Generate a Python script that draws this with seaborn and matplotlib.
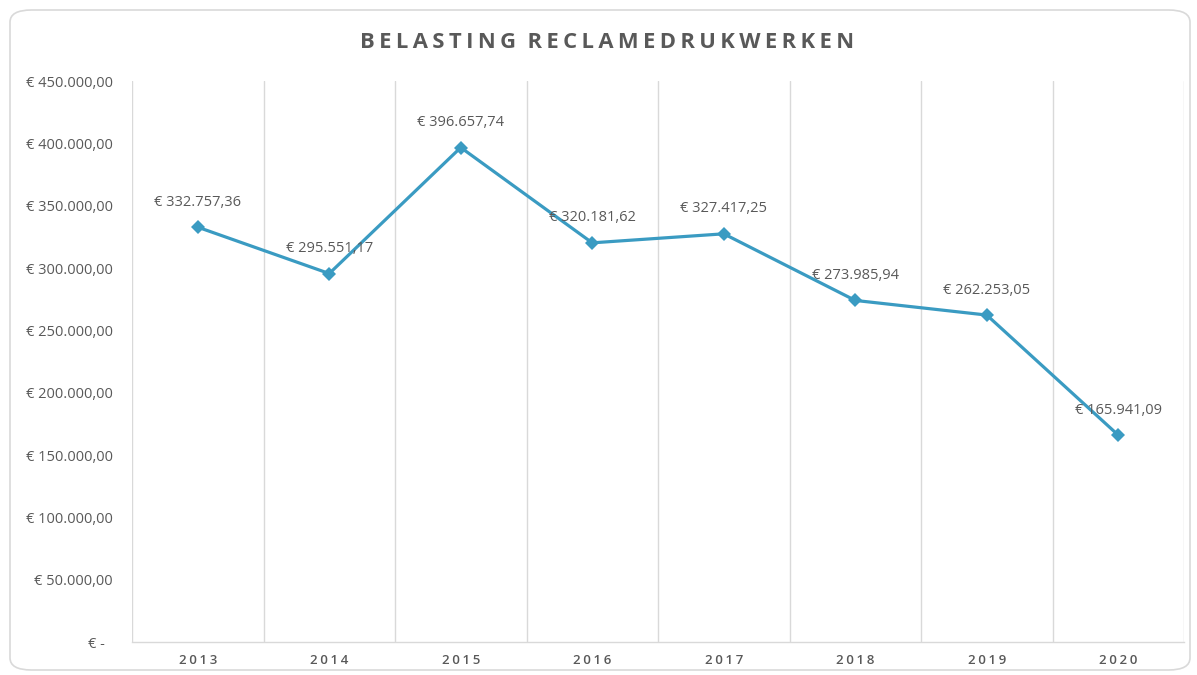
import matplotlib
matplotlib.use("Agg")
import matplotlib.pyplot as plt
import seaborn as sns
import pandas as pd
from matplotlib.patches import FancyBboxPatch

years = [2013, 2014, 2015, 2016, 2017, 2018, 2019, 2020]
values = [332757.36, 295551.17, 396657.74, 320181.62, 327417.25, 273985.94, 262253.05, 165941.09]
yticks = [0, 50000, 100000, 150000, 200000, 250000, 300000, 350000, 400000, 450000]
title = "BELASTING RECLAMEDRUKWERKEN"

def eur(v):
    if v == 0:
        return "€ -\u2002"
    s = f"{v:,.2f}".replace(",", "X").replace(".", ",").replace("X", ".")
    return "€ " + s

sns.set_theme(style="white")
plt.rcParams['font.family'] = ['Open Sans', 'DejaVu Sans']

W, H = 1197, 675
fig = plt.figure(figsize=(W / 100, H / 100), dpi=100)
fig.patch.set_facecolor("white")

# rounded chart border
border = FancyBboxPatch((10 / W, 5 / H), 1180 / W, 660 / H,
                        boxstyle="round,pad=0,rounding_size=0.018",
                        transform=fig.transFigure, facecolor="none",
                        edgecolor="#d9d9d9", linewidth=1.2, zorder=-1)
fig.patches.append(border)

ax = fig.add_axes([132 / W, 1 - 642 / H, (1184 - 132) / W, (642 - 81) / H])
ax.set_facecolor("none")

df = pd.DataFrame({"pos": range(len(years)), "value": values})
sns.lineplot(data=df, x="pos", y="value", ax=ax, color="#3A9BC2", linewidth=2.3,
             marker="D", markersize=7, markeredgewidth=0, zorder=3)

ax.set_xlim(-0.5, len(years) - 0.5)
ax.set_ylim(0, 450000)

# vertical gridlines between categories
for b in [i - 0.5 for i in range(len(years) + 1)]:
    ax.axvline(b, color="#d9d9d9", linewidth=1, zorder=1)

for s in ["top", "right", "left"]:
    ax.spines[s].set_visible(False)
ax.spines["bottom"].set_color("#d9d9d9")
ax.spines["bottom"].set_linewidth(1)

ax.set_yticks(yticks)
ax.set_yticklabels([eur(v) for v in yticks], color="#595959", fontsize=10.5)
ax.set_xticks(range(len(years)))
ax.set_xticklabels(["\u2009".join(str(y)) for y in years], color="#595959",
                   fontsize=9.5, fontweight="semibold")
ax.tick_params(axis="both", length=0)
ax.tick_params(axis="y", pad=14)
ax.tick_params(axis="x", pad=9)
ax.set_xlabel("")
ax.set_ylabel("")

for i, v in enumerate(values):
    ax.annotate(eur(v), (i, v), xytext=(0, 18), textcoords="offset points",
                ha="center", va="center", fontsize=10.5, color="#595959", zorder=4)

fig.text(607 / W, 1 - 42 / H, "\u2009".join(title).replace("\u2009 \u2009", "  "),
         ha="center", va="center", fontsize=15.8, fontweight="bold", color="#595959")

fig.savefig("out.png", dpi=100)
